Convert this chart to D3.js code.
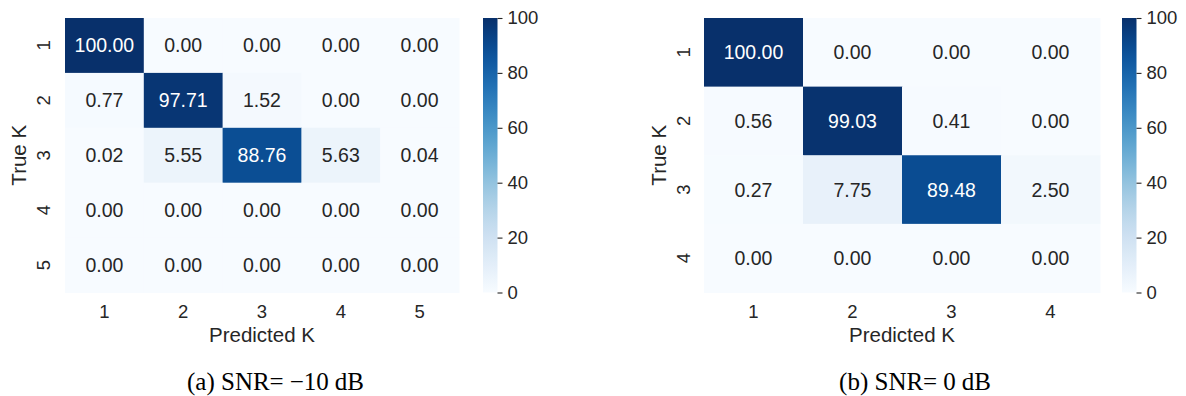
<!DOCTYPE html>
<html>
<head>
<meta charset="utf-8">
<script src="https://cdn.jsdelivr.net/npm/d3@7"></script>
<style>
  html, body { margin: 0; padding: 0; background: #fff; }
  svg { display: block; }
</style>
</head>
<body>
<svg id="fig" width="1186" height="396"></svg>
<script>
// Confusion matrices (row = true K, column = predicted K), values in %
const kLabelsA = ["1", "2", "3", "4", "5"];
const confusionA = [
  [100.00, 0.00, 0.00, 0.00, 0.00],
  [0.77, 97.71, 1.52, 0.00, 0.00],
  [0.02, 5.55, 88.76, 5.63, 0.04],
  [0.00, 0.00, 0.00, 0.00, 0.00],
  [0.00, 0.00, 0.00, 0.00, 0.00]
];
const captionA = ["(a) SNR=", "\u221210", "dB"];

const kLabelsB = ["1", "2", "3", "4"];
const confusionB = [
  [100.00, 0.00, 0.00, 0.00],
  [0.56, 99.03, 0.41, 0.00],
  [0.27, 7.75, 89.48, 2.50],
  [0.00, 0.00, 0.00, 0.00]
];
const captionB = ["(b) SNR=", "0", "dB"];

const colorbarTicks = [0, 20, 40, 60, 80, 100];
const xTitle = "Predicted K";
const yTitle = "True K";

const svg = d3.select("#fig");
const color = d3.scaleSequential(d3.interpolateBlues).domain([0, 100]);
const textDark = "#262626";
const sans = "'Liberation Sans', Arial, Helvetica, sans-serif";

// relative luminance, used to pick annotation colour
function luminance(c) {
  const rgb = d3.rgb(c);
  const f = v => { v /= 255; return v <= 0.03928 ? v / 12.92 : Math.pow((v + 0.055) / 1.055, 2.4); };
  return 0.2126 * f(rgb.r) + 0.7152 * f(rgb.g) + 0.0722 * f(rgb.b);
}

// gradient for colorbars
const defs = svg.append("defs");
const grad = defs.append("linearGradient").attr("id", "bluesGrad")
  .attr("x1", 0).attr("y1", 1).attr("x2", 0).attr("y2", 0);
d3.range(0, 1.0001, 0.05).forEach(t => {
  grad.append("stop").attr("offset", t).attr("stop-color", d3.interpolateBlues(t));
});

function drawPanel(opts) {
  const { labels, matrix, left, right, top, bottom, cbLeft, cbWidth, yTickX, yTitleX, caption, captionX } = opts;
  const g = svg.append("g");
  const x = d3.scaleBand().domain(labels).range([left, right]);
  const y = d3.scaleBand().domain(labels).range([top, bottom]);

  const cells = [];
  matrix.forEach((row, i) => row.forEach((v, j) => cells.push({ r: labels[i], c: labels[j], v })));

  g.selectAll("rect.cell").data(cells).join("rect")
    .attr("class", "cell")
    .attr("x", d => x(d.c))
    .attr("y", d => y(d.r))
    .attr("width", x.bandwidth() + 0.5)
    .attr("height", y.bandwidth() + 0.5)
    .attr("fill", d => color(d.v));

  g.selectAll("text.annot").data(cells).join("text")
    .attr("class", "annot")
    .attr("x", d => x(d.c) + x.bandwidth() / 2)
    .attr("y", d => y(d.r) + y.bandwidth() / 2)
    .attr("text-anchor", "middle")
    .attr("dominant-baseline", "central")
    .attr("font-family", sans)
    .attr("font-size", 19.5)
    .attr("fill", d => luminance(color(d.v)) > 0.408 ? textDark : "#ffffff")
    .text(d => d.v.toFixed(2));

  // x tick labels
  g.selectAll("text.xt").data(labels).join("text")
    .attr("class", "xt")
    .attr("x", d => x(d) + x.bandwidth() / 2)
    .attr("y", bottom + 19)
    .attr("text-anchor", "middle")
    .attr("dominant-baseline", "central")
    .attr("font-family", sans).attr("font-size", 18.5).attr("fill", textDark)
    .text(d => d);

  // y tick labels (rotated)
  g.selectAll("text.yt").data(labels).join("text")
    .attr("class", "yt")
    .attr("transform", d => `translate(${yTickX},${y(d) + y.bandwidth() / 2}) rotate(-90)`)
    .attr("text-anchor", "middle")
    .attr("dominant-baseline", "central")
    .attr("font-family", sans).attr("font-size", 18.5).attr("fill", textDark)
    .text(d => d);

  // axis titles
  g.append("text")
    .attr("x", (left + right) / 2).attr("y", bottom + 42)
    .attr("text-anchor", "middle").attr("dominant-baseline", "central")
    .attr("font-family", sans).attr("font-size", 20.5).attr("fill", textDark)
    .text(xTitle);
  g.append("text")
    .attr("transform", `translate(${yTitleX},${(top + bottom) / 2}) rotate(-90)`)
    .attr("text-anchor", "middle").attr("dominant-baseline", "central")
    .attr("font-family", sans).attr("font-size", 20.5).attr("fill", textDark)
    .text(yTitle);

  // colorbar
  const cb = d3.scaleLinear().domain([0, 100]).range([bottom, top]);
  g.append("rect")
    .attr("x", cbLeft).attr("y", cb(100))
    .attr("width", cbWidth).attr("height", cb(0) - cb(100))
    .attr("fill", "url(#bluesGrad)");
  const axis = d3.axisRight(cb).tickValues(colorbarTicks).tickSize(5).tickPadding(5);
  const ag = g.append("g").attr("transform", `translate(${cbLeft + cbWidth},0)`).call(axis);
  ag.select(".domain").remove();
  ag.selectAll(".tick line").attr("stroke", textDark).attr("stroke-width", 1.1);
  ag.selectAll(".tick text").attr("font-family", sans).attr("font-size", 18.5).attr("fill", textDark);

  // caption: text, math value with a wider gap, unit
  const cap = svg.append("text")
    .attr("x", captionX).attr("y", 381)
    .attr("text-anchor", "middle").attr("dominant-baseline", "central")
    .attr("font-family", "'Liberation Serif', 'Times New Roman', serif")
    .attr("font-size", 25).attr("fill", "#000");
  cap.append("tspan").text(caption[0]);
  cap.append("tspan").attr("dx", 6).text(caption[1]);
  cap.append("tspan").attr("dx", 6).text(caption[2]);
}

drawPanel({
  labels: kLabelsA, matrix: confusionA,
  left: 65, right: 459, top: 18, bottom: 292.5,
  cbLeft: 483, cbWidth: 14.5,
  yTickX: 43, yTitleX: 18,
  caption: captionA, captionX: 275.5
});

drawPanel({
  labels: kLabelsB, matrix: confusionB,
  left: 704, right: 1100, top: 18, bottom: 292.5,
  cbLeft: 1122, cbWidth: 14.5,
  yTickX: 683, yTitleX: 658,
  caption: captionB, captionX: 915
});
</script>
</body>
</html>
